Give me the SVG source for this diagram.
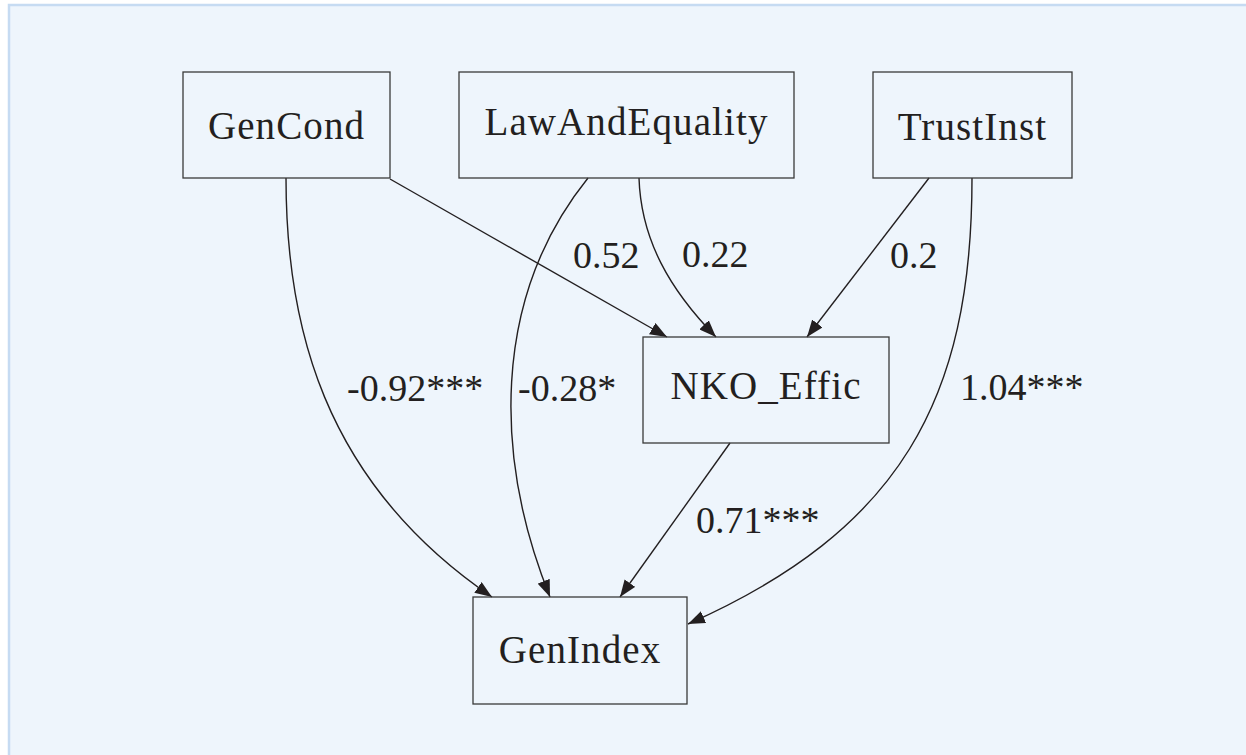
<svg xmlns="http://www.w3.org/2000/svg" width="1246" height="755" viewBox="0 0 1246 755">
<defs>
<style>
.node rect{fill:none;stroke:#3a3a3a;stroke-width:1.3}
.node text{font-size:39px;letter-spacing:1.1px;fill:#231f20;text-anchor:middle}
.edges path{fill:none;stroke:#231f20;stroke-width:1.4;marker-end:url(#arr)}
.lbl{font-size:38px;fill:#231f20}
</style>
<marker id="arr" viewBox="0 0 17 13" refX="17" refY="6.5" markerWidth="17" markerHeight="13" markerUnits="userSpaceOnUse" orient="auto">
<path d="M0,0 L17,6.5 L0,13 Z" fill="#231f20"/>
</marker>
</defs>
<rect x="0" y="0" width="1246" height="755" fill="#ffffff"/>
<rect x="9" y="5" width="1250" height="760" fill="#eef5fc" stroke="#c6dbf2" stroke-width="2.5"/>
<g class="edges">
<path d="M286,178 C286,320 320,480 492,597"/>
<path d="M588,178 C490,300 495,460 550,597"/>
<path d="M390,179 L667,337"/>
<path d="M639,178 C641,240 670,290 716,337"/>
<path d="M929,178 L807,337"/>
<path d="M972,178 C972,400 900,530 688,624"/>
<path d="M730,443 L620,597"/>
</g>
<g font-family="Liberation Serif, DejaVu Serif, serif">
<g id="GenCond" class="node"><rect x="183" y="72" width="207" height="106"/><text x="286.5" y="139">GenCond</text></g>
<g id="LawAndEquality" class="node"><rect x="459" y="72" width="335" height="106"/><text x="626.5" y="135">LawAndEquality</text></g>
<g id="TrustInst" class="node"><rect x="873" y="72" width="199" height="106"/><text x="972.5" y="140">TrustInst</text></g>
<g id="NKO_Effic" class="node"><rect x="643" y="337" width="246" height="106"/><text x="766" y="399">NKO_Effic</text></g>
<g id="GenIndex" class="node"><rect x="473" y="597" width="214" height="107"/><text x="580" y="663">GenIndex</text></g>
<g id="labels">
<text class="lbl" x="573" y="268">0.52</text>
<text class="lbl" x="682" y="267">0.22</text>
<text class="lbl" x="890" y="268">0.2</text>
<text class="lbl" x="347" y="401">-0.92***</text>
<text class="lbl" x="518" y="401">-0.28*</text>
<text class="lbl" x="696" y="533">0.71***</text>
<text class="lbl" x="960" y="400">1.04***</text>
</g>
</g>
</svg>
